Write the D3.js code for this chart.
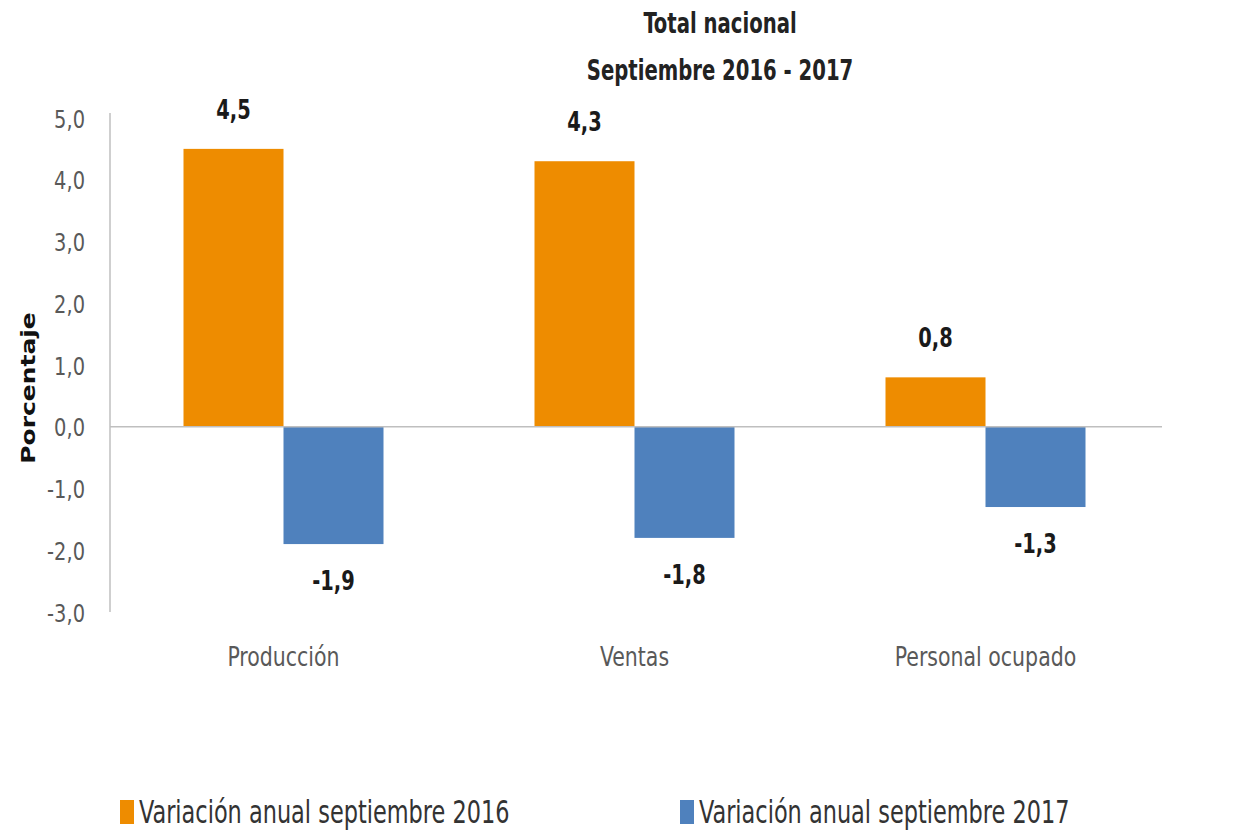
<html>
<head>
<meta charset="utf-8">
<style>
  body { margin: 0; background: #fff; }
  text { font-family: "Liberation Sans Narrow", "DejaVu Sans Condensed", "Liberation Sans", sans-serif; }
</style>
</head>
<body>
<svg id="chart" width="1253" height="832"></svg>
<script src="https://cdnjs.cloudflare.com/ajax/libs/d3/7.8.5/d3.min.js"></script>
<script>
// data
var categories = ["Producción", "Ventas", "Personal ocupado"];
var seriesNames = ["Variación anual septiembre 2016", "Variación anual septiembre 2017"];
var values2016 = [4.5, 4.3, 0.8];
var values2017 = [-1.9, -1.8, -1.3];
var yTicks = [5, 4, 3, 2, 1, 0, -1, -2, -3];
var colors = ["#EE8C00", "#4F81BD"];

var svg = d3.select("#chart");
var fmt = function(v) { return d3.format(".1f")(v).replace(".", ",").replace("−", "-"); };

var x = d3.scaleBand().domain(categories).range([108, 1161]).paddingInner(0).paddingOuter(0);
var xs = d3.scaleBand().domain([0, 1]).range([0, x.bandwidth()]).paddingInner(0).paddingOuter(0.755);
var y = d3.scaleLinear().domain([-3, 5]).range([612, 118]);

// narrow text: the reference font is condensed, so squeeze horizontally
function squeeze(sel, sx, sy) {
  sel.each(function() {
    var t = d3.select(this);
    var tx = +t.attr("x") || 0, ty = +t.attr("y") || 0;
    var prev = t.attr("transform") || "";
    t.attr("x", 0).attr("y", 0)
     .attr("transform", prev + " translate(" + tx + "," + ty + ") scale(" + sx + "," + (sy || 1) + ")");
  });
}

// title
var title = svg.append("g");
title.append("text").attr("x", 720).attr("y", 33).text("Total nacional");
title.append("text").attr("x", 720).attr("y", 80).text("Septiembre 2016 - 2017");
title.selectAll("text").attr("text-anchor", "middle")
  .style("font-size", "26px").style("font-weight", "bold").attr("fill", "#222")
  .call(squeeze, 0.84, 1.08);

// y axis
var yAxis = d3.axisLeft(y).tickValues(yTicks).tickSize(0).tickPadding(25).tickFormat(fmt);
var gy = svg.append("g").attr("transform", "translate(110,0)").call(yAxis);
gy.select(".domain").attr("stroke", "#bfbfbf").attr("stroke-width", 1.5).attr("d", "M0," + (y(5) - 5) + "V" + y(-3));
gy.selectAll("text").style("font-size", "24px").attr("fill", "#595959").attr("dy", "0.36em");
gy.selectAll(".tick text").each(function() {
  d3.select(this).attr("transform", "translate(-25,0) scale(0.9,1.05)").attr("x", 0);
});

svg.append("text").attr("transform", "translate(35,388) rotate(-90) scale(1.25,1)").attr("text-anchor", "middle")
  .style("font-size", "20px").style("font-weight", "bold").attr("fill", "#111")
  .style("font-family", "'DejaVu Sans', sans-serif")
  .text("Porcentaje");

// bars
var rows = categories.map(function(c, i) { return { cat: c, vals: [values2016[i], values2017[i]] }; });
var groups = svg.selectAll(".grp").data(rows).enter().append("g")
  .attr("transform", function(d) { return "translate(" + x(d.cat) + ",0)"; });

groups.selectAll("rect").data(function(d) { return d.vals; }).enter().append("rect")
  .attr("x", function(d, i) { return xs(i); })
  .attr("width", xs.bandwidth())
  .attr("y", function(d) { return y(Math.max(0, d)); })
  .attr("height", function(d) { return Math.abs(y(d) - y(0)); })
  .attr("fill", function(d, i) { return colors[i]; });

groups.selectAll(".lbl").data(function(d) { return d.vals; }).enter().append("text")
  .attr("x", function(d, i) { return xs(i) + xs.bandwidth() / 2; })
  .attr("y", function(d) { return d >= 0 ? y(d) - 30 : y(d) + 46; })
  .attr("text-anchor", "middle")
  .style("font-size", "24px").style("font-weight", "bold").attr("fill", "#1a1a1a")
  .text(fmt)
  .call(squeeze, 0.9, 1.08);

// zero line
svg.append("line").attr("x1", 110).attr("x2", 1162).attr("y1", y(0)).attr("y2", y(0))
  .attr("stroke", "#bfbfbf").attr("stroke-width", 1.5);

// category labels
var xAxis = d3.axisBottom(x).tickSize(0).tickPadding(0);
var gx = svg.append("g").attr("transform", "translate(0,648)").call(xAxis);
gx.select(".domain").remove();
gx.selectAll("text").style("font-size", "24px").attr("fill", "#595959")
  .attr("y", 0).attr("dy", "0.71em").attr("transform", "scale(0.95,1.08)");

// legend
var legX = [120, 680];
var leg = svg.selectAll(".leg").data(seriesNames).enter().append("g")
  .attr("transform", function(d, i) { return "translate(" + legX[i] + ",800)"; });
leg.append("rect").attr("width", 14).attr("height", 24).attr("y", 0)
  .attr("fill", function(d, i) { return colors[i]; });
leg.append("text").attr("x", 19).attr("y", 23)
  .style("font-size", "29px").attr("fill", "#333")
  .text(function(d) { return d; })
  .call(squeeze, 0.86, 1.08);
</script>
</body>
</html>
